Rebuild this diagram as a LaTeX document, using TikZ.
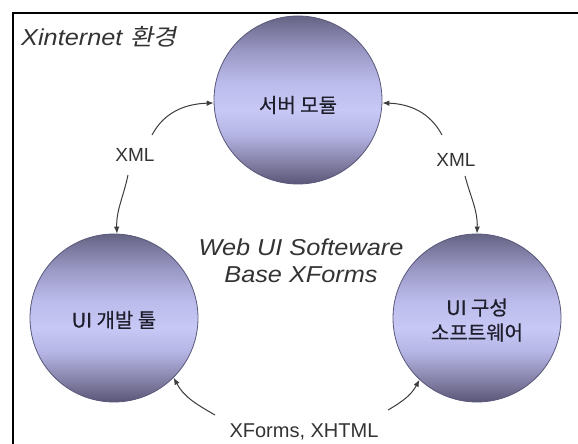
\documentclass[tikz,border=0pt]{standalone}
\usepackage{fontspec}
\setmainfont{Liberation Sans}
\newfontfamily\widesans[FakeStretch=1.1]{Liberation Sans}
\newfontfamily\kr[FakeBold=0.6]{Noto Sans CJK KR}
\newfontfamily\krit[FakeSlant=0.2,FakeStretch=1.1]{Noto Sans CJK KR}
\usetikzlibrary{arrows.meta}

% colours of the spheres, from the lower rim up to the upper rim
\definecolor{orbA}{HTML}{5A5678}
\definecolor{orbB}{HTML}{7C789C}
\definecolor{orbC}{HTML}{B6B6E6}
\definecolor{orbD}{HTML}{C8C8F6}
\definecolor{orbE}{HTML}{BCBCEC}
\definecolor{orbF}{HTML}{9896C2}
\definecolor{orbG}{HTML}{666484}
\definecolor{orbLine}{HTML}{58587A}
\definecolor{inkDark}{HTML}{1E1E2C}
\definecolor{inkGray}{HTML}{333333}
\definecolor{wire}{HTML}{3C3C3C}

\pgfdeclareverticalshading{orbshade}{100bp}{%
  color(0bp)=(orbA); color(25bp)=(orbA); color(30bp)=(orbB);
  color(40bp)=(orbC); color(47bp)=(orbD); color(55bp)=(orbE);
  color(65bp)=(orbF); color(75bp)=(orbG); color(100bp)=(orbG)}

\tikzset{
  orb/.style={circle, minimum size=168pt, inner sep=0pt,
    draw=orbLine, line width=0.8pt, shading=orbshade},
  orbtxt/.style={text=inkDark, font=\kr\fontsize{20}{25}\selectfont,
    align=center, inner sep=0pt},
  lbl/.style={text=inkGray, font=\fontsize{19}{22}\selectfont, inner sep=1pt},
  midtxt/.style={text=inkGray, font=\widesans\itshape\fontsize{23}{27}\selectfont,
    align=center, inner sep=0pt},
  ttl/.style={text=inkGray, font=\widesans\fontsize{23}{26}\selectfont, inner sep=0pt},
  flow/.style={draw=wire, line width=1pt,
    -{Latex[length=7pt,width=5.5pt]}},
  frame/.style={draw=black, line width=1.3pt}
}

\begin{document}
\begin{tikzpicture}[x=1pt, y=1pt]
  \useasboundingbox (0,0) rectangle (578,444);
  \fill[white] (0,0) rectangle (578,444);

  % open frame along the top and the left side
  \draw[frame] (13,0) -- (13,431) -- (578,431);

  \node[ttl, anchor=west] (title) at (21,407)
    {\textit{Xinternet} {\krit 환경}};

  % the three spheres
  \node[orb, label={[orbtxt, yshift=-5pt]center:서버 모듈}] (srv) at (298,344) {};
  \node[orb, label={[orbtxt, yshift=-2pt]center:UI 개발 툴}] (dev) at (114,126) {};
  \node[orb, label={[orbtxt, yshift=-2pt]center:{UI 구성\\소프트웨어}}] (ui) at (477,126) {};

  \node[midtxt] (core) at (301,183) {Web UI Softeware\\Base XForms};

  \node[lbl] (xmlL) at (135,289) {XML};
  \node[lbl] (xmlR) at (456,284) {XML};
  \node[lbl, font=\fontsize{20}{22}\selectfont] (xfx) at (304,12) {XForms, XHTML};

  % free ends of the connectors
  \coordinate (a1) at (152,309);
  \coordinate (a2) at (128,269);
  \coordinate (a3) at (442,309);
  \coordinate (a4) at (465,268);
  \coordinate (a5) at (215,29);
  \coordinate (a6) at (388,34);

  \draw[flow] (a1) to[out=62, in=182] (srv.182);
  \draw[flow] (a2) to[out=258, in=92] (dev.88);
  \draw[flow] (a3) to[out=118, in=-2] (srv.358);
  \draw[flow] (a4) to[out=285, in=88] (ui.90);
  \draw[flow] (a5) to[out=150, in=-62] (dev.-45);
  \draw[flow] (a6) to[out=30, in=-118] (ui.-133);
\end{tikzpicture}
\end{document}
